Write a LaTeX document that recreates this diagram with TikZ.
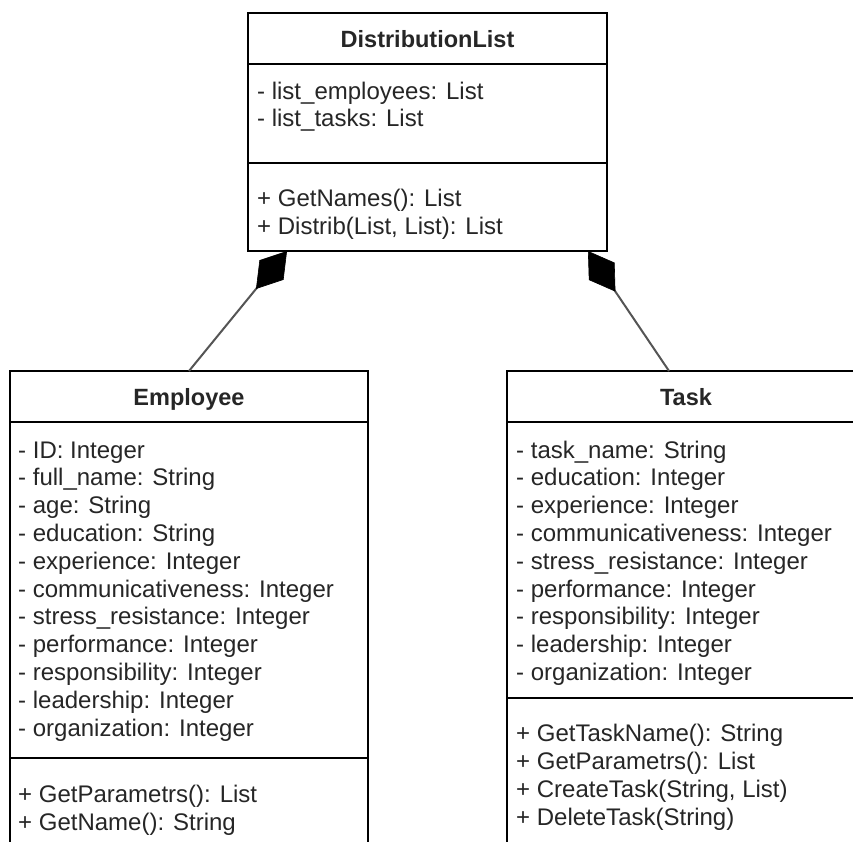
\documentclass[tikz,border=0pt]{standalone}
\usepackage{fontspec}
\setmainfont{Liberation Sans}
\usetikzlibrary{arrows.meta}
\definecolor{txt}{HTML}{262626}
\definecolor{conn}{HTML}{555555}
\begin{document}
\begin{tikzpicture}[x=1pt,y=-1pt,
  box/.style={draw=black, line width=1.8pt, inner sep=0pt, outer sep=0pt, anchor=north west},
  sepline/.style={draw=black, line width=1.8pt},
  ttl/.style={anchor=base, inner sep=0pt, font=\fontsize{23.5}{27.6}\selectfont\bfseries, text=txt},
  mem/.style={anchor=base west, inner sep=0pt, font=\fontsize{24}{27.6}\selectfont, text=txt},
  comp/.style={draw=conn, line width=2pt, {Diamond[length=49pt,width=31pt,color=black,line width=0.6pt]}-}]
\useasboundingbox (0,0) rectangle (853,842);
\fill[white] (0,0) rectangle (853,842);
\clip (0,0) rectangle (853,842);

% boxes
\node[box, minimum width=359pt, minimum height=238pt] (dist) at (248,13) {};
\node[box, minimum width=358pt, minimum height=500pt] (emp) at (10,371) {};
\node[box, minimum width=358pt, minimum height=500pt] (task) at (507,371) {};

% separators
\draw[sepline] (dist.west |- 0,64) -- (dist.east |- 0,64);
\draw[sepline] (dist.west |- 0,163) -- (dist.east |- 0,163);
\draw[sepline] (emp.west |- 0,422) -- (emp.east |- 0,422);
\draw[sepline] (emp.west |- 0,758) -- (emp.east |- 0,758);
\draw[sepline] (task.west |- 0,422) -- (task.east |- 0,422);
\draw[sepline] (task.west |- 0,698) -- (task.east |- 0,698);

% titles
\node[ttl] (distT) at (427.5,47.5) {DistributionList};
\node[ttl] (empT) at (189,405.5) {Employee};
\node[ttl] (taskT) at (686,405.5) {Task};

% DistributionList members
\node[mem] (dA1) at (257,100) {- list\_employees: List};
\node[mem] (dA2) at (257,127) {- list\_tasks: List};
\node[mem] (dM1) at (257,207) {+ GetNames(): List};
\node[mem] (dM2) at (257,234) {+ Distrib(List, List): List};

% Employee members
\foreach \t [count=\i from 0] in {- ID: Integer, - full\_name: String, - age: String, - education: String, - experience: Integer, - communicativeness: Integer, - stress\_resistance: Integer, - performance: Integer, - responsibility: Integer, - leadership: Integer, - organization: Integer}
  \node[mem] (eA\i) at ({18},{458+\i*27.8}) {\t};
\node[mem] (eM1) at (18,802) {+ GetParametrs(): List};
\node[mem] (eM2) at (18,830) {+ GetName(): String};

% Task members
\foreach \t [count=\i from 0] in {- task\_name: String, - education: Integer, - experience: Integer, - communicativeness: Integer, - stress\_resistance: Integer, - performance: Integer, - responsibility: Integer, - leadership: Integer, - organization: Integer}
  \node[mem] (tA\i) at ({516},{458+\i*27.8}) {\t};
\node[mem] (tM1) at (516,741) {+ GetTaskName(): String};
\node[mem] (tM2) at (516,769) {+ GetParametrs(): List};
\node[mem] (tM3) at (516,797) {+ CreateTask(String, List)};
\node[mem] (tM4) at (516,825) {+ DeleteTask(String)};

% connectors (composition)
\coordinate (dL) at (287,251);
\coordinate (dR) at (588,251);
\coordinate (empTop) at (189,371);
\coordinate (taskTop) at (669,371);
\draw[comp] (dL) -- (empTop);
\draw[comp] (dR) -- (taskTop);
\end{tikzpicture}
\end{document}
